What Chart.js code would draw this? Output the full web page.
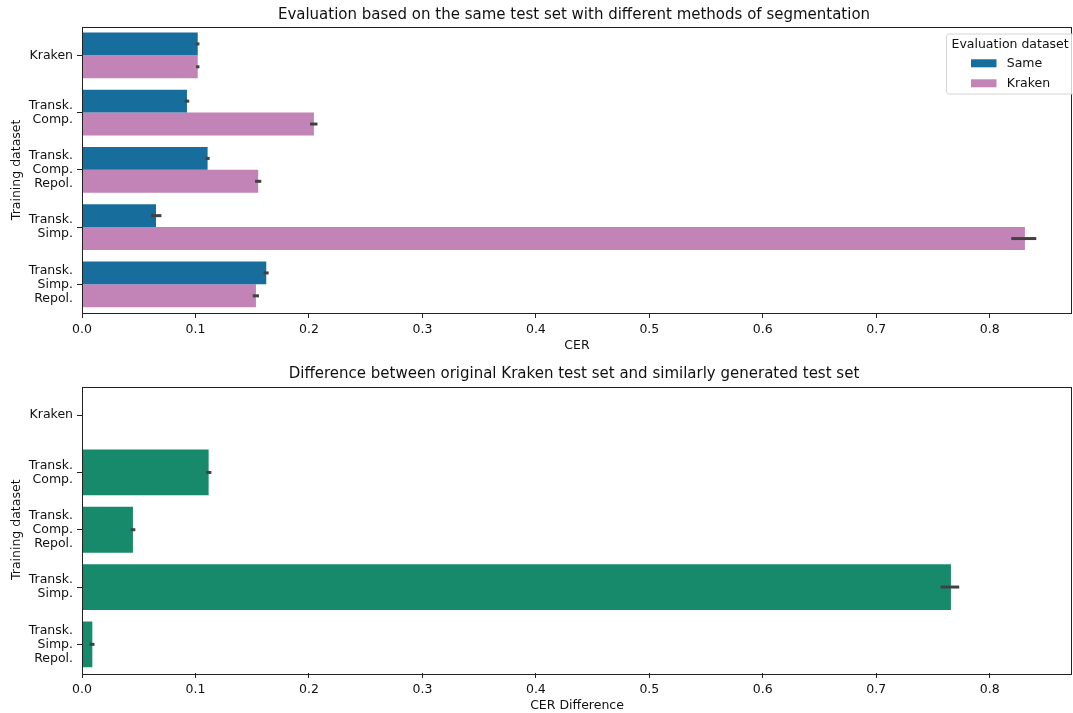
<!DOCTYPE html>
<html>
<head>
<meta charset="utf-8">
<script src="https://cdn.jsdelivr.net/npm/chart.js@4"></script>
<style>
  html, body { margin: 0; padding: 0; background: #fff; }
  #wrap { position: relative; width: 1073px; height: 713px; }
  #c1 { position: absolute; left: 0; top: 0; }
  #c2 { position: absolute; left: 0; top: 356px; }
</style>
</head>
<body>
<div id="wrap">
  <canvas id="c1" width="1073" height="356"></canvas>
  <canvas id="c2" width="1073" height="357"></canvas>
</div>
<script>
// ---- data ----
const categories = ['Kraken', ['Transk.', 'Comp.'], ['Transk.', 'Comp.', 'Repol.'], ['Transk.', 'Simp.'], ['Transk.', 'Simp.', 'Repol.']];
const seriesNames = ['Same', 'Kraken'];
const sameValues   = [0.102, 0.0925, 0.1107, 0.0652, 0.1624];
const sameErrLow   = [0.1005, 0.0905, 0.1090, 0.0610, 0.1600];
const sameErrHigh  = [0.1035, 0.0945, 0.1125, 0.0700, 0.1645];
const krakenValues  = [0.102, 0.2044, 0.1553, 0.831, 0.1533];
const krakenErrLow  = [0.1005, 0.2010, 0.1525, 0.8190, 0.1505];
const krakenErrHigh = [0.1035, 0.2075, 0.1580, 0.8410, 0.1560];
const diffValues  = [0, 0.1116, 0.0449, 0.7658, 0.0091];
const diffErrLow  = [null, 0.1095, 0.0430, 0.7567, 0.0065];
const diffErrHigh = [null, 0.1140, 0.0470, 0.7731, 0.0110];
const xTicks = [0, 0.1, 0.2, 0.3, 0.4, 0.5, 0.6, 0.7, 0.8];
const xMax = 0.8725;
const title1 = 'Evaluation based on the same test set with different methods of segmentation';
const title2 = 'Difference between original Kraken test set and similarly generated test set';
const legendTitle = 'Evaluation dataset';

// ---- style ----
const FONT = 'DejaVu Sans';
const FS = 12.5;
const TXT = '#111111';
const COL_SAME = '#176d9c';
const COL_KRAKEN = '#c283b6';
const COL_DIFF = '#168a6a';
Chart.defaults.font.family = FONT;
Chart.defaults.font.size = FS;
Chart.defaults.color = TXT;

const frameErr = {
  id: 'frameErr',
  afterDatasetsDraw(chart) {
    const {ctx, chartArea: a, scales: {x}} = chart;
    chart.data.datasets.forEach((ds, di) => {
      const meta = chart.getDatasetMeta(di);
      meta.data.forEach((bar, i) => {
        const lo = ds.errLow[i], hi = ds.errHigh[i];
        if (lo == null || hi == null) return;
        ctx.save();
        ctx.strokeStyle = '#414141';
        ctx.lineWidth = 3;
        ctx.lineCap = 'butt';
        ctx.beginPath();
        ctx.moveTo(x.getPixelForValue(lo), bar.y);
        ctx.lineTo(x.getPixelForValue(hi), bar.y);
        ctx.stroke();
        ctx.restore();
      });
    });
    ctx.save();
    ctx.strokeStyle = '#222';
    ctx.lineWidth = 1;
    ctx.strokeRect(Math.round(a.left) + 0.5, Math.round(a.top) + 0.5, Math.round(a.width) - 1, Math.round(a.height));
    ctx.restore();
  }
};

// axes title centred over the plot area (like matplotlib's ax.set_title)
const axTitle = {
  id: 'axTitle',
  afterDraw(chart, args, opts) {
    const {ctx, chartArea: a} = chart;
    ctx.save();
    ctx.font = '15px "' + FONT + '"';
    ctx.fillStyle = TXT;
    ctx.textAlign = 'center';
    ctx.textBaseline = 'middle';
    ctx.fillText(opts.text, (a.left + a.right) / 2 - 3, a.top - opts.gap);
    ctx.restore();
  }
};

const legendBox = {
  id: 'legendBox',
  afterDraw(chart) {
    const ctx = chart.ctx;
    const bx = 946.5, by = 34, bw = 130, bh = 60, r = 3;
    ctx.save();
    ctx.beginPath();
    ctx.moveTo(bx + r, by);
    ctx.lineTo(bx + bw - r, by);
    ctx.arcTo(bx + bw, by, bx + bw, by + r, r);
    ctx.lineTo(bx + bw, by + bh - r);
    ctx.arcTo(bx + bw, by + bh, bx + bw - r, by + bh, r);
    ctx.lineTo(bx + r, by + bh);
    ctx.arcTo(bx, by + bh, bx, by + bh - r, r);
    ctx.lineTo(bx, by + r);
    ctx.arcTo(bx, by, bx + r, by, r);
    ctx.closePath();
    ctx.fillStyle = 'rgba(255,255,255,0.8)';
    ctx.fill();
    ctx.strokeStyle = '#d4d4d4';
    ctx.lineWidth = 1;
    ctx.stroke();
    ctx.font = FS + 'px "' + FONT + '"';
    ctx.fillStyle = TXT;
    ctx.textBaseline = 'middle';
    ctx.textAlign = 'left';
    ctx.fillText(legendTitle, 951.5, 45);
    chart.data.datasets.forEach((ds, i) => {
      const cy = 63.3 + i * 20;
      ctx.fillStyle = ds.backgroundColor;
      ctx.fillRect(971, cy - 4, 25.5, 8);
      ctx.fillStyle = TXT;
      ctx.fillText(ds.label, 1006.7, cy);
    });
    ctx.restore();
  }
};

function xScale(title, height, titlePadBottom) {
  return {
    type: 'linear',
    min: 0,
    max: xMax,
    afterFit(s) { s.height = height; },
    afterBuildTicks(s) { s.ticks = xTicks.map(v => ({value: v})); },
    ticks: { padding: 4, callback: v => v.toFixed(1), color: TXT, font: {size: FS} },
    grid: { display: true, drawOnChartArea: false, drawTicks: true, tickLength: 5, color: '#222' },
    border: { display: false },
    title: { display: true, text: title, color: TXT, font: {size: FS, lineHeight: 1.2}, padding: {top: 0, bottom: titlePadBottom} }
  };
}
function yScale() {
  return {
    type: 'category',
    afterFit(s) { s.width = 82; },
    ticks: { padding: 4, color: TXT, font: {size: FS, lineHeight: 1.12} },
    grid: { display: true, drawOnChartArea: false, drawTicks: true, tickLength: 5, color: '#222', offset: false },
    border: { display: false },
    title: { display: true, text: 'Training dataset', color: TXT, font: {size: FS, lineHeight: 1.2}, padding: {top: 9, bottom: 0} }
  };
}

new Chart(document.getElementById('c1'), {
  type: 'bar',
  data: {
    labels: categories,
    datasets: [
      { label: seriesNames[0], data: sameValues, errLow: sameErrLow, errHigh: sameErrHigh, backgroundColor: COL_SAME, categoryPercentage: 0.8, barPercentage: 1.0 },
      { label: seriesNames[1], data: krakenValues, errLow: krakenErrLow, errHigh: krakenErrHigh, backgroundColor: COL_KRAKEN, categoryPercentage: 0.8, barPercentage: 1.0 }
    ]
  },
  options: {
    responsive: false,
    animation: false,
    devicePixelRatio: 1,
    indexAxis: 'y',
    layout: { padding: {left: 0, right: 1, top: 26.7, bottom: 0} },
    plugins: {
      legend: { display: false },
      tooltip: { enabled: false },
      title: { display: false },
      axTitle: { text: title1, gap: 12 }
    },
    scales: { x: xScale('CER', 43, 2.7), y: yScale() }
  },
  plugins: [frameErr, legendBox, axTitle]
});

new Chart(document.getElementById('c2'), {
  type: 'bar',
  data: {
    labels: categories,
    datasets: [
      { label: 'CER Difference', data: diffValues, errLow: diffErrLow, errHigh: diffErrHigh, backgroundColor: COL_DIFF, categoryPercentage: 0.8, barPercentage: 1.0 }
    ]
  },
  options: {
    responsive: false,
    animation: false,
    devicePixelRatio: 1,
    indexAxis: 'y',
    layout: { padding: {left: 0, right: 1, top: 30.5, bottom: 0} },
    plugins: {
      legend: { display: false },
      tooltip: { enabled: false },
      title: { display: false },
      axTitle: { text: title2, gap: 12 }
    },
    scales: { x: xScale('CER Difference', 40, 0), y: yScale() }
  },
  plugins: [frameErr, axTitle]
});
</script>
</body>
</html>
